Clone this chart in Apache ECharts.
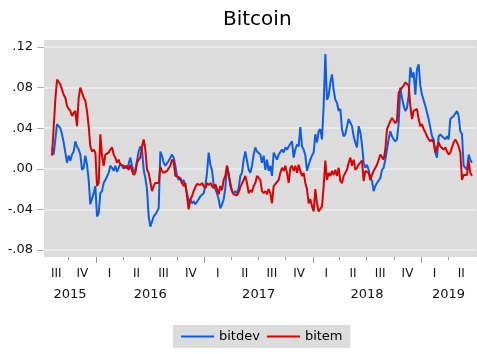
<!DOCTYPE html>
<html><head><meta charset="utf-8">
<script src="https://cdn.jsdelivr.net/npm/echarts@6/dist/echarts.min.js"></script>
<style>html,body{margin:0;padding:0;background:#fff}#c{width:477px;height:354px}</style>
</head><body><div id="c"></div>
<script>
const titleText = 'Bitcoin';
const seriesNames = ['bitdev', 'bitem'];
const obsStart = '2015-08-06';
const obsStepDays = 5.617;
const bitdev = [
.021,.014,.029,.044,.045,.040,.034,.026,.016,.006,
.013,.008,.014,.017,.027,.022,.019,.014,-.001,.001,
.013,.004,-.011,-.035,-.034,-.024,-.017,-.047,-.044,-.024,
-.022,-.014,-.011,-.012,-.004,.003,.001,-.002,.003,-.003,
.001,.005,.003,.000,.003,.000,.005,.011,.003,-.003,
-.001,.008,.017,.022,.019,-.001,-.009,-.020,-.047,
-.057,-.052,-.047,-.045,-.044,-.039,.017,.013,.006,.003,
.004,.008,.011,.014,.011,.003,-.007,-.011,-.009,-.014,
-.011,-.017,-.024,-.032,-.030,-.034,-.032,-.035,-.034,-.030,
-.027,-.027,-.024,-.017,-.004,.016,.004,-.001,-.017,-.020,
-.024,-.030,-.039,-.035,-.030,-.019,.003,-.004,-.017,-.022,
-.024,-.022,-.024,-.019,-.007,-.004,.009,.017,.016,-.001,
-.004,.003,.014,.021,.017,
.016,.014,.006,.013,-.001,.009,-.002,.003,-.007,.016,
.017,.009,.014,.013,.019,.016,.021,.019,.022,.023,
.027,.011,.019,.024,.022,.041,.022,.019,.013,-.002,
.004,.009,.013,.016,.034,.026,.037,.039,.029,.062,
.113,.068,.072,.085,.093,.078,.068,.065,.057,.059,
.039,.032,.034,.042,.049,.050,.042,.032,.026,.021,
.042,.036,.024,.006,.001,
.004,-.001,-.009,-.012,-.022,-.017,-.014,-.015,-.009,-.001,
.001,.009,.019,.029,.037,.032,.029,.027,.029,.045,
.080,.070,.062,.057,.060,.072,.100,.090,.095,.073,
.098,.103,.082,.073,.072,.062,.062,.049,.049,.032,
.029,.016,.011,.032,.034,.032,.031,.029,.032,.029,
.049,.050,.052,.052,.057,.052,.037,.034,.003,.004,
-.001,.014,.009,.006
];
const bitem = [
.013,.014,.068,.088,.087,.083,.078,.073,.070,.062,
.059,.057,.052,.055,.057,.042,.070,.080,.075,.070,
.067,.057,.042,.022,.017,.019,.016,-.017,-.014,.034,
.013,.003,.014,.013,.016,.019,.021,.014,.011,.006,
.009,.004,.004,.003,.001,.003,-.001,.004,-.002,-.006,
-.004,.006,.009,.011,.022,.029,.019,-.001,-.004,
-.004,-.022,-.017,-.014,-.014,-.014,.002,-.002,-.004,-.005,
-.002,-.001,.003,.009,.007,-.007,-.007,-.008,-.010,-.014,
-.017,-.014,-.027,-.040,-.030,-.027,-.022,-.018,-.015,-.014,
-.016,-.014,-.017,-.019,-.014,-.016,-.014,-.017,-.019,-.015,
-.020,-.025,-.017,-.021,-.011,-.007,.003,-.007,-.014,-.022,
-.025,-.026,-.026,-.023,-.018,-.017,-.011,-.007,-.014,-.024,
-.021,-.023,-.017,-.014,-.007,
-.006,-.011,-.022,-.024,-.022,-.025,-.020,-.024,-.034,-.017,
-.015,-.014,-.011,-.004,.001,-.002,.003,-.004,-.014,.001,
.003,-.002,.003,-.004,.004,-.002,-.007,-.004,-.014,-.020,
-.034,-.030,-.037,-.042,-.020,-.034,-.042,-.043,-.037,-.017,
.008,-.011,-.004,-.007,-.002,-.006,-.001,-.007,.001,-.012,
-.014,-.007,-.004,-.001,.006,.011,.003,.009,-.001,.001,
.004,.006,.008,-.012,-.002,
-.001,-.004,-.011,-.006,-.002,.001,.004,.004,.014,.013,
.009,.019,.039,.040,.047,.050,.049,.045,.047,.075,
.078,.080,.082,.085,.085,.082,.062,.049,.057,.057,
.059,.049,.042,.044,.039,.036,.032,.029,.027,.029,
.026,.016,.016,.026,.022,.022,.019,.021,.017,.014,
.016,.021,.026,.029,.026,.022,.016,-.011,-.006,-.007,
-.006,.008,-.004,-.007
];
const quarterStarts = ['2015-07-01','2015-10-01','2016-01-01','2016-04-01','2016-07-01','2016-10-01',
  '2017-01-01','2017-04-01','2017-07-01','2017-10-01','2018-01-01','2018-04-01','2018-07-01','2018-10-01',
  '2019-01-01','2019-04-01','2019-07-01'];
const quarterLabels = ['III','IV','I','II','III','IV','I','II','III','IV','I','II','III','IV','I','II'];
const yearLabels = ['2015','2016','2017','2018','2019'];
const axisStart = '2015-07-10', axisEnd = '2019-07-05';
const yMin = -0.08, yMax = 0.12, yStep = 0.04;

const D0 = Date.UTC(2016, 0, 1);
function day(s) { const p = s.split('-').map(Number); return (Date.UTC(p[0], p[1] - 1, p[2]) - D0) / 864e5; }
const xMin = day(axisStart), xMax = day(axisEnd);
const t0 = day(obsStart);
const toPts = arr => arr.map((v, i) => [t0 + i * obsStepDays, v]);
const qb = quarterStarts.map(day);
const qTickVals = qb.filter(v => v > xMin && v < xMax - 5);
const qLabelVals = quarterLabels.map((_, i) => (Math.max(qb[i], xMin) + Math.min(qb[i + 1], xMax)) / 2);
const yb = yearLabels.map(y => day(y + '-01-01'));
const yTickVals = yb.filter(v => v > xMin && v <= xMax);
const yLabelVals = yearLabels.map((y, i) => (Math.max(yb[i], xMin) + Math.min(day((+y + 1) + '-01-01'), xMax)) / 2);
function nearestLabel(vals, labels, v) {
  let best = 0, bd = Infinity;
  vals.forEach((x, i) => { const d = Math.abs(x - v); if (d < bd) { bd = d; best = i; } });
  return labels[best];
}
const FONT = 'DejaVu Sans';
const chart = echarts.init(document.getElementById('c'), null, { renderer: 'canvas' });
chart.setOption({
  animation: false,
  backgroundColor: '#ffffff',
  title: { text: titleText, left: 218, top: 5, textStyle: { fontFamily: FONT, fontSize: 20, fontWeight: 'normal', color: '#000' } },
  graphic: [{ type: 'rect', z: -10, shape: { x: 44, y: 40, width: 433, height: 217 }, style: { fill: '#dcdcdc' } }],
  grid: { left: 44, right: 1, top: 47, bottom: 104, containLabel: false },
  legend: {
    data: seriesNames, left: 173, top: 325, backgroundColor: '#dcdcdc', padding: [5, 8], itemGap: 7,
    itemWidth: 33, itemHeight: 2, icon: 'rect',
    textStyle: { fontFamily: FONT, fontSize: 13, color: '#000' }
  },
  xAxis: [
    { type: 'value', min: xMin, max: xMax, position: 'bottom', offset: 7,
      axisLine: { show: false, onZero: false }, splitLine: { show: false },
      axisTick: { show: true, customValues: qTickVals, length: 3, lineStyle: { color: '#999' } },
      axisLabel: { customValues: qLabelVals, margin: 11, fontFamily: FONT, fontSize: 12, color: '#111',
        formatter: v => nearestLabel(qLabelVals, quarterLabels, v) } },
    { type: 'value', min: xMin, max: xMax, position: 'bottom', offset: 7,
      axisLine: { show: false, onZero: false }, splitLine: { show: false },
      axisTick: { show: true, customValues: yTickVals, length: 6, lineStyle: { color: '#999' } },
      axisLabel: { customValues: yLabelVals, margin: 31, fontFamily: FONT, fontSize: 13, color: '#111',
        formatter: v => nearestLabel(yLabelVals, yearLabels, v) } }
  ],
  yAxis: {
    type: 'value', min: yMin, max: yMax, interval: yStep, position: 'left',
    axisLine: { show: false, onZero: false },
    axisTick: { show: true, length: 7, lineStyle: { color: '#aaa' } },
    splitLine: { show: true, lineStyle: { color: '#efefef', width: 1.5 } },
    axisLabel: { margin: 11, fontFamily: FONT, fontSize: 13, color: '#111',
      formatter: v => (v < -1e-9 ? '-' : '') + Math.abs(v).toFixed(2).replace(/^0/, '') }
  },
  series: [
    { name: seriesNames[0], type: 'line', xAxisIndex: 0, data: toPts(bitdev), showSymbol: false,
      lineStyle: { width: 2, color: '#0d5ee6' }, itemStyle: { color: '#0d5ee6' } },
    { name: seriesNames[1], type: 'line', xAxisIndex: 0, data: toPts(bitem), showSymbol: false,
      lineStyle: { width: 2, color: '#dc0000' }, itemStyle: { color: '#dc0000' } }
  ]
});
</script></body></html>
